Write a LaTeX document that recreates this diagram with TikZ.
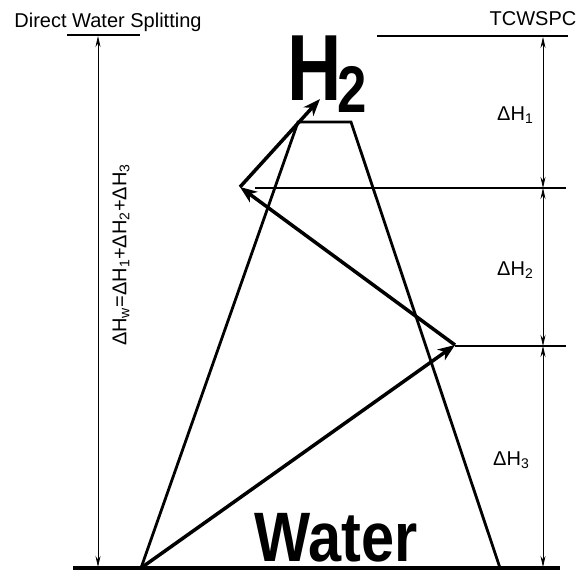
\documentclass[tikz,border=0pt]{standalone}
\usepackage{fontspec}
\setmainfont{Liberation Sans}
\usetikzlibrary{arrows.meta}
\begin{document}
\begin{tikzpicture}[x=1pt,y=-1pt,
  lbl/.style={font=\fontsize{20}{24}\selectfont, inner sep=0pt},
  guide/.style={line width=1.6pt},
  dim/.style={line width=0.8pt, {Stealth[length=11pt,width=5pt]}-{Stealth[length=11pt,width=5pt]}},
  flow/.style={line width=3.5pt, -{Stealth[length=17pt,width=13pt,inset=5pt]}},
  side/.style={line width=2.8pt, line join=miter}]
\useasboundingbox (0,0) rectangle (578,574);
% coordinates
\coordinate (w) at (141,568);
\coordinate (p1) at (455,345);
\coordinate (p2) at (240,187);
\coordinate (h) at (320,99);
\coordinate (tl) at (298,122);
\coordinate (tr) at (351,122);
\coordinate (br) at (500,568);
% texts
\node[lbl, anchor=base] (dws) at (108,27) {Direct Water Splitting};
\node[lbl, anchor=base] (tc) at (533,25) {TCWSPC};
\node[inner sep=0pt, anchor=base west, xscale=0.8, font=\fontsize{94}{94}\bfseries\selectfont] (H2) at (287.5,100) {H\kern-6pt\raisebox{-12pt}{\fontsize{66}{66}\selectfont 2}};
\node[inner sep=0pt, anchor=base, xscale=0.85, font=\fontsize{70}{70}\bfseries\selectfont] (water) at (336,561) {Water};
\node[lbl, anchor=base west] (d1) at (497,120) {ΔH\textsubscript{1}};
\node[lbl, anchor=base west] (d2) at (497,275) {ΔH\textsubscript{2}};
\node[lbl, anchor=base west] (d3) at (493,465) {ΔH\textsubscript{3}};
\node[lbl, rotate=90] (dw) at (121,255) {ΔH\textsubscript{w}=ΔH\textsubscript{1}+ΔH\textsubscript{2}+ΔH\textsubscript{3}};
% guide lines
\coordinate (gl1) at (67,35); \coordinate (gl2) at (140,35);
\coordinate (gr1) at (377,36); \coordinate (gr2) at (568,36);
\coordinate (g2a) at (255,188); \coordinate (g2b) at (566,188);
\coordinate (g3a) at (455,346); \coordinate (g3b) at (566,346);
\coordinate (b1) at (73,568); \coordinate (b2) at (560,568);
\draw[guide] (gl1) -- (gl2);
\draw[guide] (gr1) -- (gr2);
\draw[guide] (g2a) -- (g2b);
\draw[guide] (g3a) -- (g3b);
% trapezoid
\draw[side] (w) -- (tl) -- (tr) -- (br);
\draw[line width=4pt] (b1) -- (b2);
% dimension arrows
\coordinate (lv1) at (98,36); \coordinate (lv2) at (98,567);
\draw[dim] (lv1) -- (lv2);
\coordinate (r0) at (543,37); \coordinate (r1) at (543,188);
\coordinate (r2) at (543,346); \coordinate (r3) at (543,567);
\draw[dim] (r0) -- (r1);
\draw[dim] (r1) -- (r2);
\draw[dim] (r2) -- (r3);
% flow arrows
\draw[flow] (w) -- (p1);
\draw[flow] (p1) -- (p2);
\draw[flow] (p2) -- (h);
\end{tikzpicture}
\end{document}
